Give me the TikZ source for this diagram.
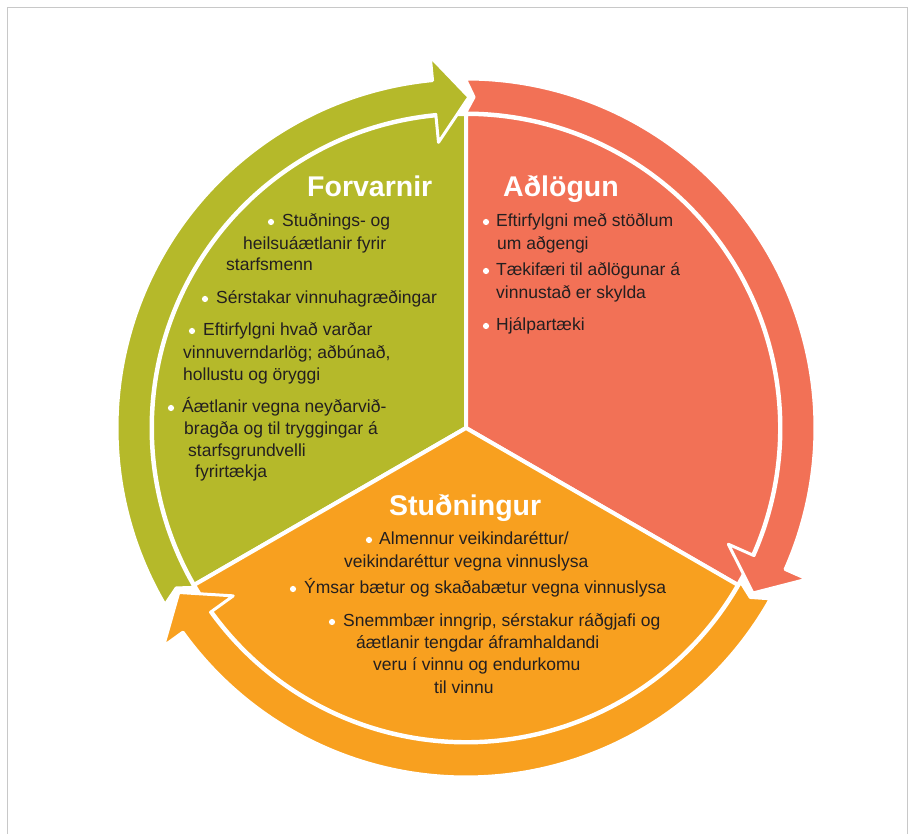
\documentclass[tikz,border=0pt]{standalone}
\usepackage{fontspec}
\setmainfont{Liberation Sans}
\definecolor{gcol}{HTML}{B5B92A}
\definecolor{rcol}{HTML}{F27156}
\definecolor{ocol}{HTML}{F8A01F}
\definecolor{tblack}{HTML}{231F20}
\definecolor{frameg}{HTML}{C8C8C8}
\tikzset{
  txt/.style={anchor=base west, inner sep=0pt, font=\fontsize{17.5}{21}\selectfont, text=tblack},
  hd/.style={anchor=base west, inner sep=0pt, font=\bfseries\fontsize{28.5}{34}\selectfont, text=white},
  bul/.style={fill=white},
  sector/.style={draw=white, line width=4pt, line join=round},
  ringseg/.style={draw=white, line width=3pt, line join=round}
}
% #1 colour, #2 tail junction angle, #3 head junction angle (#2 > #3)
\newcommand\myringseg[3]{%
  \fill[#1, ringseg]
    (#2+0.6:349pt) arc[start angle=#2+0.6, end angle=#3+6, radius=349pt]
    -- (#3+6:373pt) -- (#3:331pt) -- (#3+6:287pt) -- (#3+6:315pt)
    arc[start angle=#3+6, end angle=#2+0.6, radius=315pt]
    -- (#2-0.9:331pt) -- cycle;}
\begin{document}
\begin{tikzpicture}[x=1pt, y=1pt]
\useasboundingbox (0,0) rectangle (914,834);
% frame
\draw[frameg, line width=1.5pt] (7.5,0) -- (7.5,826.5) -- (907.5,826.5) -- (907.5,0);
\begin{scope}[shift={(466,406)}]
  % pie
  \fill[gcol, sector] (0,0) -- (90:314pt) arc[start angle=90, end angle=210, radius=314pt] -- cycle;
  \fill[rcol, sector] (0,0) -- (-30:314pt) arc[start angle=-30, end angle=90, radius=314pt] -- cycle;
  \fill[ocol, sector] (0,0) -- (210:314pt) arc[start angle=210, end angle=330, radius=314pt] -- cycle;
  % ring arrows
  \myringseg{gcol}{209.8}{89.5}
  \myringseg{rcol}{89.5}{-29.9}
  \myringseg{ocol}{330.1}{209.8}
\end{scope}
% Forvarnir
\node[hd] (fh) at (307,637) {Forvarnir};
\fill[bul] (271,612) circle (3.1pt);
\node[txt] (f1) at (282,607) {Stuðnings- og};
\node[txt] (f2) at (243,584) {heilsuáætlanir fyrir};
\node[txt] (f3) at (226,563) {starfsmenn};
\fill[bul] (205,535) circle (3.1pt);
\node[txt] (f4) at (216,530) {Sérstakar vinnuhagræðingar};
\fill[bul] (192,503) circle (3.1pt);
\node[txt] (f5) at (203,498) {Eftirfylgni hvað varðar};
\node[txt] (f6) at (183,475) {vinnuverndarlög; aðbúnað,};
\node[txt] (f7) at (183,453) {hollustu og öryggi};
\fill[bul] (171,426) circle (3.1pt);
\node[txt] (f8) at (182,421) {Áætlanir vegna neyðarvið-};
\node[txt] (f9) at (184,399) {bragða og til tryggingar á};
\node[txt] (f10) at (188,377) {starfsgrundvelli};
\node[txt] (f11) at (195,356) {fyrirtækja};
% Aðlögun
\node[hd] (ah) at (503,637) {Aðlögun};
\fill[bul] (486,612) circle (3.1pt);
\node[txt] (a1) at (496,607) {Eftirfylgni með stöðlum};
\node[txt] (a2) at (497,584) {um aðgengi};
\fill[bul] (486,563) circle (3.1pt);
\node[txt] (a3) at (496,558) {Tækifæri til aðlögunar á};
\node[txt] (a4) at (496,535) {vinnustað er skylda};
\fill[bul] (486,508) circle (3.1pt);
\node[txt] (a5) at (496,503) {Hjálpartæki};
% Stuðningur
\node[hd] (sh) at (389,318) {Stuðningur};
\fill[bul] (369,294) circle (3.1pt);
\node[txt] (s1) at (379,289) {Almennur veikindaréttur/};
\node[txt] (s2) at (344,266) {veikindaréttur vegna vinnuslysa};
\fill[bul] (293,245) circle (3.1pt);
\node[txt] (s3) at (304,240) {Ýmsar bætur og skaðabætur vegna vinnuslysa};
\fill[bul] (332,212) circle (3.1pt);
\node[txt] (s4) at (343,207) {Snemmbær inngrip, sérstakur ráðgjafi og};
\node[txt] (s5) at (356,185) {áætlanir tengdar áframhaldandi};
\node[txt] (s6) at (373,163) {veru í vinnu og endurkomu};
\node[txt] (s7) at (434,140) {til vinnu};
\end{tikzpicture}
\end{document}
